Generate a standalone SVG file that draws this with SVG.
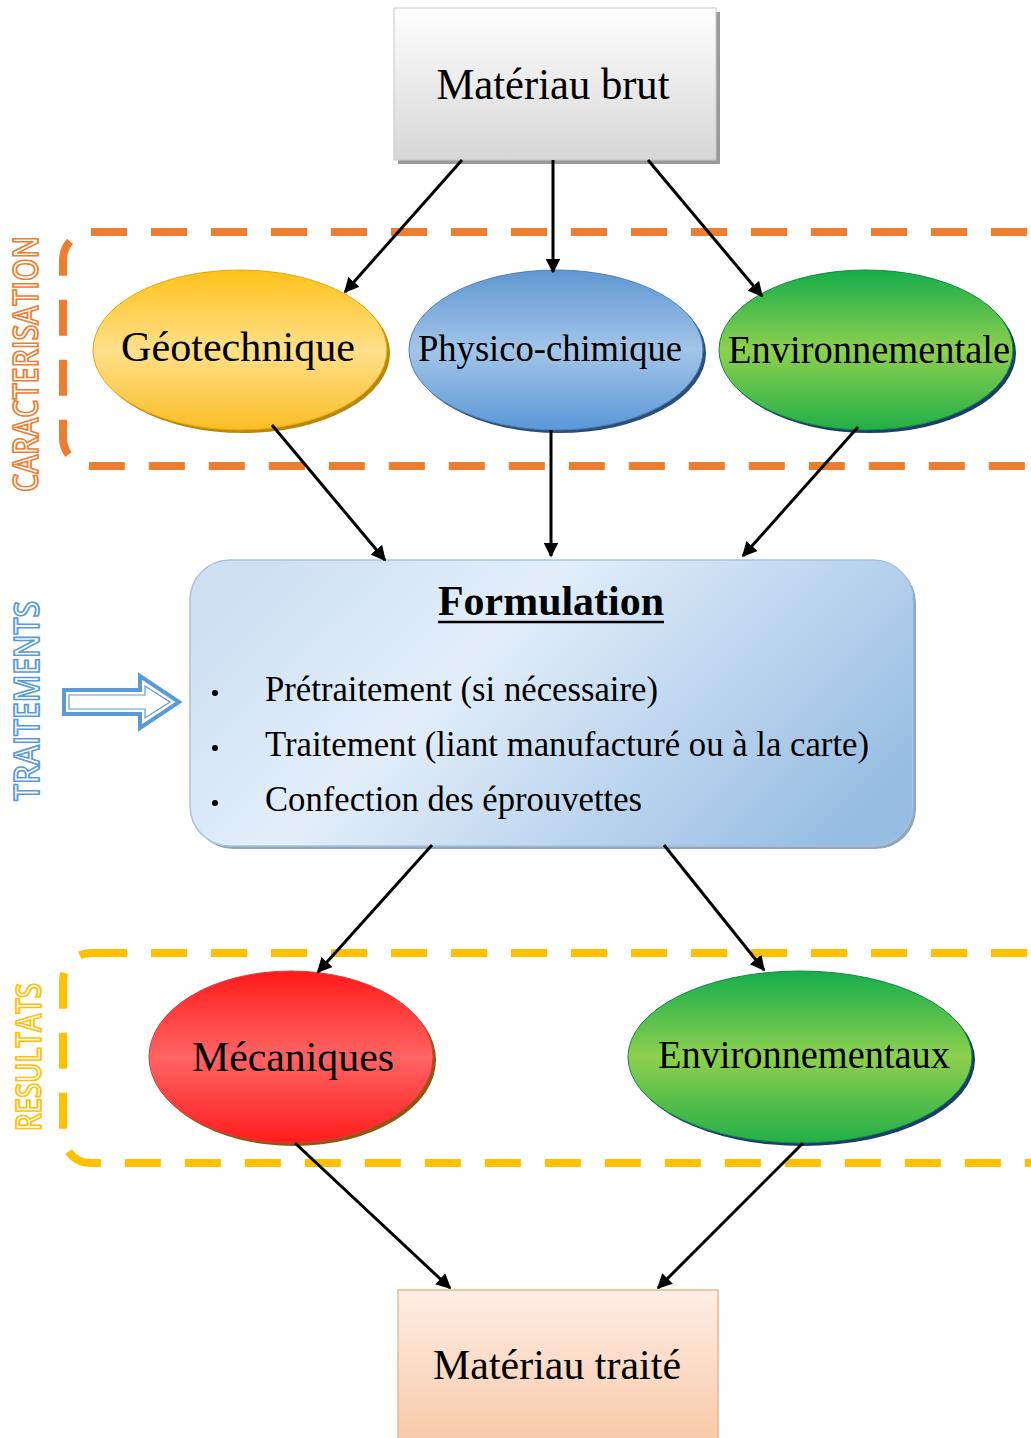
<svg xmlns="http://www.w3.org/2000/svg" width="1031" height="1438" viewBox="0 0 1031 1438">
<defs>
<style>
.serif{font-family:"Liberation Serif","Times New Roman",serif;fill:#000}
.side{font-family:"Open Sans","Liberation Sans",sans-serif;font-weight:600;fill:#fff;stroke-width:1.8}
.conn line{stroke:#000;stroke-width:3;marker-end:url(#ah)}
.dash{fill:none;stroke-width:8;stroke-dasharray:36 24}
</style>
<marker id="ah" viewBox="0 0 10 10" refX="9" refY="5" markerWidth="5" markerHeight="5" orient="auto" markerUnits="strokeWidth">
<path d="M0,0 L10,5 L0,10 z" fill="#000"/>
</marker>
<linearGradient id="gGray" x1="0" y1="0" x2="0" y2="1"><stop offset="0" stop-color="#ffffff"/><stop offset="1" stop-color="#d6d6d6"/></linearGradient>
<linearGradient id="gPeach" x1="0" y1="0" x2="0" y2="1"><stop offset="0" stop-color="#fdeee4"/><stop offset="1" stop-color="#f7c7a6"/></linearGradient>
<linearGradient id="gYel" x1="0" y1="0" x2="0" y2="1"><stop offset="0" stop-color="#ffc21a"/><stop offset="0.5" stop-color="#ffe08a"/><stop offset="1" stop-color="#fbbd25"/></linearGradient>
<linearGradient id="gBlue" x1="0" y1="0" x2="0" y2="1"><stop offset="0" stop-color="#5f97d2"/><stop offset="0.5" stop-color="#a3c5e8"/><stop offset="1" stop-color="#5a98d8"/></linearGradient>
<linearGradient id="gGreen" x1="0" y1="0" x2="0" y2="1"><stop offset="0" stop-color="#16ad4b"/><stop offset="0.5" stop-color="#8ed04e"/><stop offset="1" stop-color="#22af48"/></linearGradient>
<linearGradient id="gRed" x1="0" y1="0" x2="0" y2="1"><stop offset="0" stop-color="#ff1a1a"/><stop offset="0.5" stop-color="#ff6464"/><stop offset="1" stop-color="#ff1c1c"/></linearGradient>
<linearGradient id="gForm" x1="0" y1="0.3" x2="1" y2="0.7"><stop offset="0" stop-color="#cfe0f3"/><stop offset="0.35" stop-color="#e3eef9"/><stop offset="1" stop-color="#97bde3"/></linearGradient>
</defs>

<g id="groupe-caracterisation">
<rect class="dash" x="63" y="232" width="990" height="234" rx="28" stroke="#ed7d31"/>
<text class="side" stroke="#ed7d31" transform="translate(38,364) rotate(-90)" text-anchor="middle" font-size="34" textLength="256" lengthAdjust="spacingAndGlyphs">CARACTERISATION</text>
</g>
<g id="groupe-resultats">
<rect class="dash" x="63" y="953" width="990" height="210" rx="28" stroke="#ffc000"/>
<text class="side" stroke="#ffc000" transform="translate(41,1057) rotate(-90)" text-anchor="middle" font-size="34" textLength="148" lengthAdjust="spacingAndGlyphs">RESULTATS</text>
</g>
<g id="traitements">
<text class="side" stroke="#5b9bd5" transform="translate(39,701) rotate(-90)" text-anchor="middle" font-size="34" textLength="200" lengthAdjust="spacingAndGlyphs">TRAITEMENTS</text>
<path d="M64,690 L140,690 L140,676 L179,702 L140,728 L140,714 L64,714 Z" fill="#fff" stroke="#5b9bd5" stroke-width="4" stroke-linejoin="miter"/>
<path d="M69,695 L145,695 L145,686 L170,702 L145,718 L145,709 L69,709 Z" fill="none" stroke="#5b9bd5" stroke-width="1.2"/>
</g>

<g id="materiau-brut">
<rect x="398" y="12" width="322" height="152" fill="#9a9a9a"/>
<rect x="394" y="8" width="322" height="152" fill="url(#gGray)" stroke="#c8c8c8" stroke-width="1"/>
<text class="serif" x="553" y="99" text-anchor="middle" font-size="44" textLength="233" lengthAdjust="spacingAndGlyphs">Matériau brut</text>
</g>

<g id="geotechnique">
<ellipse cx="243" cy="353" rx="147" ry="80" fill="#b8860b"/>
<ellipse cx="240" cy="350" rx="147" ry="80" fill="url(#gYel)" stroke="#e6a800" stroke-width="1"/>
<text class="serif" x="238" y="361" text-anchor="middle" font-size="43" textLength="234" lengthAdjust="spacingAndGlyphs">Géotechnique</text>
</g>
<g id="physico-chimique">
<ellipse cx="559" cy="353" rx="147" ry="80" fill="#2c4f7a"/>
<ellipse cx="556" cy="350" rx="147" ry="80" fill="url(#gBlue)" stroke="#4a7fb8" stroke-width="1"/>
<text class="serif" x="550" y="361" text-anchor="middle" font-size="38" textLength="264" lengthAdjust="spacingAndGlyphs">Physico-chimique</text>
</g>
<g id="environnementale">
<ellipse cx="869" cy="353" rx="147" ry="80" fill="#1f3b6e"/>
<ellipse cx="866" cy="350" rx="147" ry="80" fill="url(#gGreen)" stroke="#0e8a3c" stroke-width="1"/>
<text class="serif" x="869" y="363" text-anchor="middle" font-size="39" textLength="282" lengthAdjust="spacingAndGlyphs">Environnementale</text>
</g>

<g id="formulation">
<rect x="193" y="563" width="723" height="286" rx="40" fill="#8fa7bf"/>
<rect x="190" y="560" width="723" height="286" rx="40" fill="url(#gForm)" stroke="#a9c2dc" stroke-width="1.5"/>
<text class="serif" x="551" y="615" text-anchor="middle" font-size="43" font-weight="bold" textLength="226" lengthAdjust="spacingAndGlyphs">Formulation</text>
<line x1="438" y1="622" x2="664" y2="622" stroke="#000" stroke-width="2.5"/>
<g class="serif" font-size="35">
<circle cx="215" cy="693" r="3" fill="#000"/>
<text x="265" y="701" textLength="393" lengthAdjust="spacingAndGlyphs">Prétraitement (si nécessaire)</text>
<circle cx="215" cy="748" r="3" fill="#000"/>
<text x="265" y="756" textLength="604" lengthAdjust="spacingAndGlyphs">Traitement (liant manufacturé ou à la carte)</text>
<circle cx="215" cy="803" r="3" fill="#000"/>
<text x="265" y="811" textLength="377" lengthAdjust="spacingAndGlyphs">Confection des éprouvettes</text>
</g>
</g>

<g id="mecaniques">
<ellipse cx="294" cy="1060" rx="142" ry="86" fill="#8a5a10"/>
<ellipse cx="291" cy="1057" rx="142" ry="86" fill="url(#gRed)" stroke="#e03a3a" stroke-width="1"/>
<text class="serif" x="293" y="1071" text-anchor="middle" font-size="42" textLength="202" lengthAdjust="spacingAndGlyphs">Mécaniques</text>
</g>
<g id="environnementaux">
<ellipse cx="803" cy="1060" rx="172" ry="86" fill="#1f3b6e"/>
<ellipse cx="800" cy="1057" rx="172" ry="86" fill="url(#gGreen)" stroke="#0e8a3c" stroke-width="1"/>
<text class="serif" x="804" y="1068" text-anchor="middle" font-size="39" textLength="292" lengthAdjust="spacingAndGlyphs">Environnementaux</text>
</g>

<g id="materiau-traite">
<rect x="398" y="1290" width="320" height="160" fill="url(#gPeach)" stroke="#e9b890" stroke-width="1.5"/>
<text class="serif" x="557" y="1379" text-anchor="middle" font-size="42" textLength="248" lengthAdjust="spacingAndGlyphs">Matériau traité</text>
</g>

<g id="connecteurs" class="conn">
<line x1="462" y1="160" x2="345" y2="292"/>
<line x1="553" y1="160" x2="553" y2="272"/>
<line x1="648" y1="160" x2="762" y2="296"/>
<line x1="272" y1="425" x2="385" y2="560"/>
<line x1="551" y1="430" x2="551" y2="556"/>
<line x1="858" y1="427" x2="743" y2="556"/>
<line x1="432" y1="845" x2="318" y2="972"/>
<line x1="664" y1="845" x2="764" y2="970"/>
<line x1="295" y1="1143" x2="450" y2="1288"/>
<line x1="803" y1="1143" x2="658" y2="1288"/>
</g>
</svg>
